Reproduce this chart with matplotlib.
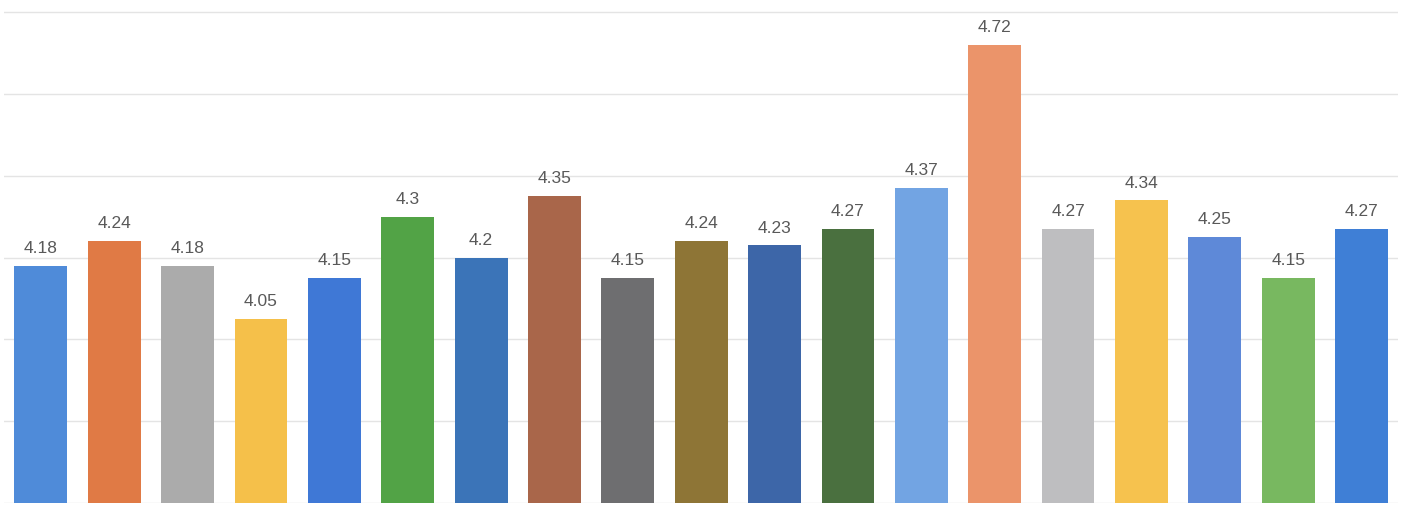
import numpy as np
import matplotlib.pyplot as plt

# values, left to right
values = [4.18, 4.24, 4.18, 4.05, 4.15, 4.3, 4.2, 4.35, 4.15, 4.24,
          4.23, 4.27, 4.37, 4.72, 4.27, 4.34, 4.25, 4.15, 4.27]
labels = ["4.18", "4.24", "4.18", "4.05", "4.15", "4.3", "4.2", "4.35", "4.15", "4.24",
          "4.23", "4.27", "4.37", "4.72", "4.27", "4.34", "4.25", "4.15", "4.27"]
colors = ["#4F8BD9", "#E07A45", "#ABABAB", "#F5C04A", "#3F78D6", "#52A346",
          "#3B74B8", "#A9664A", "#6E6E70", "#8E7536", "#3D66A8", "#4A703F",
          "#72A4E3", "#EB946A", "#BEBEC0", "#F6C24E", "#5E89D8", "#78B860", "#3F7FD6"]

x = np.arange(len(values))

fig = plt.figure(figsize=(14.01, 5.21), dpi=100)
ax = fig.add_axes([0.003, 0.035, 0.995, 0.965])

ax.bar(x, values, width=0.72, color=colors, zorder=2)

for xi, v, s in zip(x, values, labels):
    ax.annotate(s, (xi, v), xytext=(0, 7), textcoords="offset points",
                ha="center", va="bottom", fontsize=12.5, color="#595959",
                family=["Liberation Sans", "DejaVu Sans"])

ax.set_xlim(-0.5, len(values) - 0.5)
ax.set_ylim(3.6, 4.83)
ax.set_yticks(np.arange(3.6, 4.81, 0.2))
ax.yaxis.grid(True, color="#E4E4E4", lw=1, zorder=0)
ax.tick_params(left=False, bottom=False, labelleft=False, labelbottom=False)
for sp in ax.spines.values():
    sp.set_visible(False)

fig.savefig("out.png", dpi=100)
